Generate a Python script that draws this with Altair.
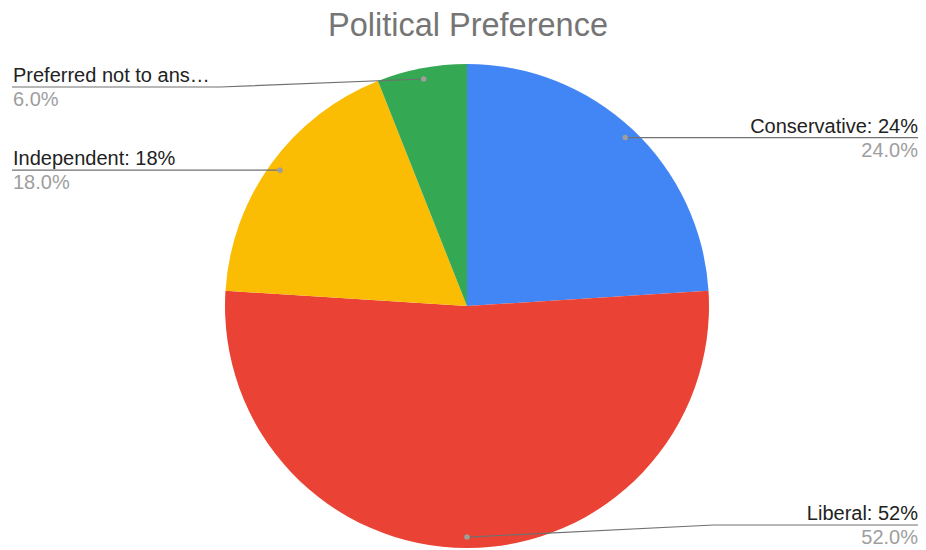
import altair as alt
import pandas as pd
import numpy as np

# ---- data ----
categories = ["Conservative", "Liberal", "Independent", "Preferred not to answer"]
values = [24, 52, 18, 6]
name_labels = ["Conservative: 24%", "Liberal: 52%", "Independent: 18%", "Preferred not to ans\u2026"]
colors = ["#4285F4", "#EA4335", "#FBBC04", "#34A853"]
title_text = "Political Preference"

# ---- layout ----
W, H = 910, 542
CX, CY, R = 459, 298, 242
FONT = "Liberation Sans"
FS = 20

total = float(sum(values))
vals = np.array(values, dtype=float)
cum_before = np.concatenate([[0.0], np.cumsum(vals)[:-1]])
mid = (cum_before + vals / 2) / total * 2 * np.pi
dot_u = 0.955 * np.sin(mid)
dot_v = 0.955 * np.cos(mid)
side = np.where(np.sin(mid) >= 0, "right", "left")
sign = np.where(side == "right", 1.0, -1.0)
lab_v = np.clip(dot_v, -0.905, 0.905)
elbow_u = sign * np.maximum(np.abs(dot_u), 1.02)
end_u = np.where(side == "right", (W + 2 - CX) / R, (4 - CX) / R)
text_u = np.where(side == "right", (W - CX) / R, (5 - CX) / R)
pct_labels = [f"{v / total * 100:.1f}%" for v in values]

pie_df = pd.DataFrame({"category": categories, "value": values, "order": range(len(values))})

pts = pd.DataFrame({"category": categories, "u": dot_u, "v": dot_v})

line_rows = []
for i, c in enumerate(categories):
    line_rows.append({"category": c, "step": 0, "u": dot_u[i], "v": dot_v[i]})
    line_rows.append({"category": c, "step": 1, "u": elbow_u[i], "v": lab_v[i]})
    line_rows.append({"category": c, "step": 2, "u": end_u[i], "v": lab_v[i]})
lines_df = pd.DataFrame(line_rows)

text_df = pd.DataFrame({
    "category": categories,
    "name": name_labels,
    "pct": pct_labels,
    "side": side,
    "u": text_u,
    "v_name": lab_v + 5.0 / R,
    "v_pct": lab_v - 19.0 / R,
})

xs = alt.Scale(domain=[(0 - CX) / R, (W - CX) / R], range=[0, W], nice=False, zero=False)
ys = alt.Scale(domain=[(CY - H) / R, CY / R], range=[H, 0], nice=False, zero=False)

pie = alt.Chart(pie_df).mark_arc(radius=R).encode(
    theta=alt.Theta("value:Q", stack=True),
    color=alt.Color("category:N", scale=alt.Scale(domain=categories, range=colors), legend=None),
    order=alt.Order("order:Q"),
    x=alt.value(CX),
    y=alt.value(CY),
)

lines = alt.Chart(lines_df).mark_line(color="#707070", strokeWidth=1.2).encode(
    x=alt.X("u:Q", scale=xs, axis=None),
    y=alt.Y("v:Q", scale=ys, axis=None),
    detail="category:N",
    order="step:Q",
)

dots = alt.Chart(pts).mark_circle(size=30, color="#9e9e9e", opacity=1).encode(
    x=alt.X("u:Q", scale=xs, axis=None),
    y=alt.Y("v:Q", scale=ys, axis=None),
)

def text_layers(s, align):
    base = alt.Chart(text_df).transform_filter(alt.datum.side == s)
    n = base.mark_text(align=align, baseline="alphabetic", font=FONT, fontSize=FS, color="#222222").encode(
        x=alt.X("u:Q", scale=xs, axis=None),
        y=alt.Y("v_name:Q", scale=ys, axis=None),
        text="name:N",
    )
    p = base.mark_text(align=align, baseline="alphabetic", font=FONT, fontSize=FS, color="#9e9e9e").encode(
        x=alt.X("u:Q", scale=xs, axis=None),
        y=alt.Y("v_pct:Q", scale=ys, axis=None),
        text="pct:N",
    )
    return n + p

title = alt.Chart(pd.DataFrame({"t": [title_text]})).mark_text(
    align="center", baseline="alphabetic", font=FONT, fontSize=32.5, color="#757575"
).encode(x=alt.value(CX + 1), y=alt.value(28), text="t:N")

chart = alt.layer(
    pie, lines, dots, text_layers("right", "right"), text_layers("left", "left"), title
).properties(
    width=W, height=H, autosize=alt.AutoSizeParams(type="none"),
    padding={"left": 0, "top": 0, "right": 0, "bottom": 0},
).configure_view(stroke=None)

chart.save("out.html", embed_options={"renderer": "svg", "actions": False})
